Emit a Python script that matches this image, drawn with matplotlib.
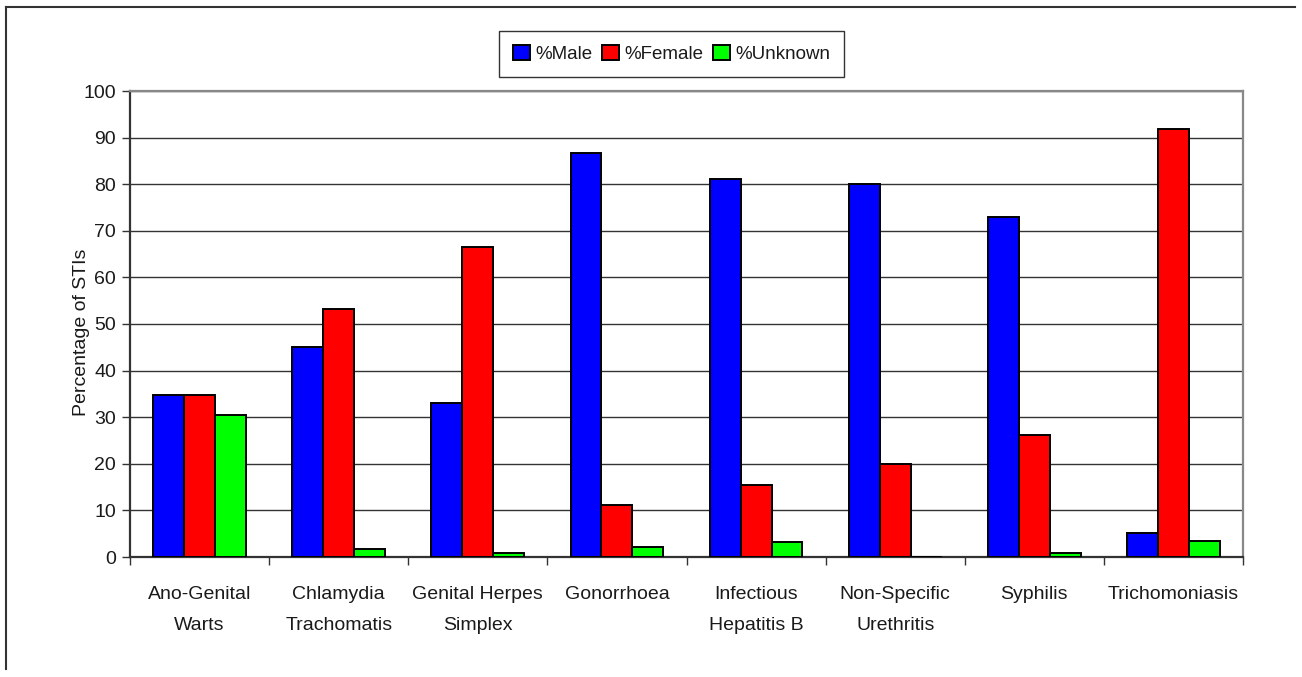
import matplotlib
matplotlib.use("Agg")
import matplotlib.pyplot as plt
from matplotlib.lines import Line2D
import numpy as np

plt.rcParams['font.family'] = ['Liberation Sans', 'DejaVu Sans']

categories = ["Ano-Genital\nWarts", "Chlamydia\nTrachomatis", "Genital Herpes\nSimplex",
              "Gonorrhoea", "Infectious\nHepatitis B", "Non-Specific\nUrethritis",
              "Syphilis", "Trichomoniasis"]
male = [34.8, 45.1, 33.0, 86.8, 81.1, 80.0, 73.0, 5.2]
female = [34.8, 53.2, 66.5, 11.2, 15.4, 20.0, 26.2, 91.8]
unknown = [30.5, 1.8, 0.8, 2.2, 3.3, 0.0, 0.9, 3.4]
series_names = ["%Male", "%Female", "%Unknown"]
series_colors = ["#0000FF", "#FF0000", "#00FF00"]
y_ticks = list(range(0, 101, 10))

W, H = 1302, 677
fig = plt.figure(figsize=(W / 100, H / 100), dpi=100)
ax = fig.add_axes([130 / W, (H - 557) / H, (1243 - 130) / W, (557 - 91) / H])

text_color = "#1a1a1a"
fs = 14
n = len(categories)
centers = np.arange(n) + 0.5
bw = 1 / 4.5

handles = []
for k, (vals, name, col) in enumerate(zip([male, female, unknown], series_names, series_colors)):
    b = ax.bar(centers + (k - 1) * bw, vals, width=bw, color=col, edgecolor="black",
               linewidth=1.4, label=name, zorder=3)
    handles.append(b)

ax.set_xlim(0, n)
ax.set_ylim(0, 100)
ax.set_yticks(y_ticks)
ax.yaxis.grid(True, color="#333333", linewidth=1.0, zorder=0)
ax.set_axisbelow(True)

# category boundaries as major ticks, names on minor ticks at the centres
ax.set_xticks(np.arange(n + 1))
ax.set_xticklabels([])
ax.set_xticks(centers, minor=True)
ax.set_xticklabels(categories, minor=True, fontsize=fs, color=text_color, linespacing=2.1)
ax.tick_params(axis="x", which="minor", length=0, pad=21)
ax.tick_params(axis="x", which="major", length=6, width=1.0, color="#333333", direction="out")
ax.tick_params(axis="y", length=6, width=1.0, color="#333333", labelsize=fs,
               labelcolor=text_color, pad=4)

for s in ("left", "bottom"):
    ax.spines[s].set_color("#333333")
    ax.spines[s].set_linewidth(1.6)
for s in ("top", "right"):
    ax.spines[s].set_color("#888888")
    ax.spines[s].set_linewidth(1.6)

# axis title sits over the tick labels
ax.text((81 - 130) / (1243 - 130), (557 - 332) / (557 - 91), "Percentage of STIs",
        transform=ax.transAxes, rotation=90, ha="center", va="center",
        fontsize=fs, color=text_color)

leg = fig.legend(handles=handles, labels=series_names, loc="center",
                 bbox_to_anchor=(671.5 / W, 1 - 54 / H), ncol=3, fontsize=13.5,
                 frameon=True, fancybox=False, edgecolor="black", handlelength=0.9,
                 handleheight=0.8, handletextpad=0.3, columnspacing=0.5,
                 borderpad=0.75, labelcolor=text_color)
leg.get_frame().set_linewidth(1.0)

# outer chart frame (top and left edges)
fig.add_artist(Line2D([6 / W, 6 / W], [1 - 7 / H, 1 - 669 / H], color="#333333", linewidth=1.5))
fig.add_artist(Line2D([6 / W, 1295 / W], [1 - 7 / H, 1 - 7 / H], color="#333333", linewidth=1.5))

fig.savefig("out.png", dpi=100)
